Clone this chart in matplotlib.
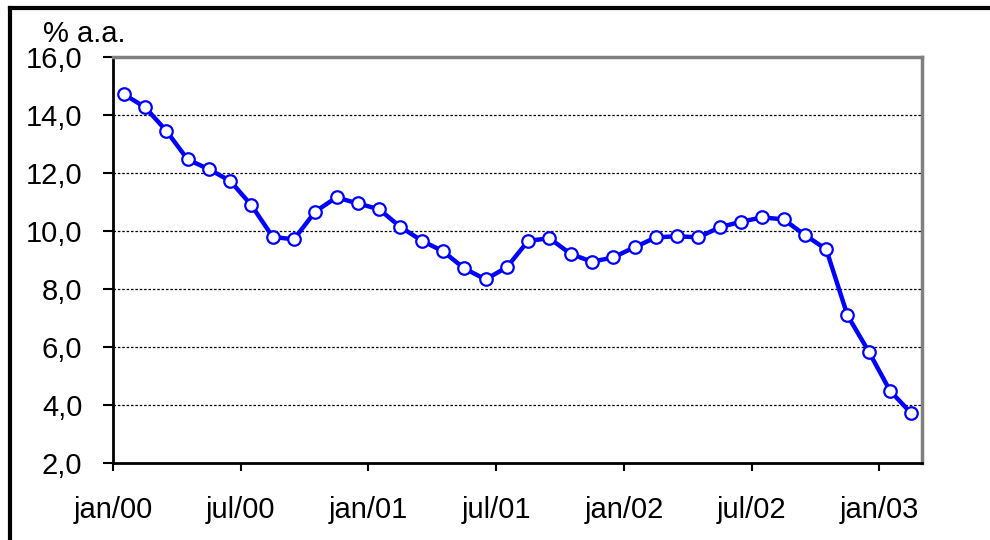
import numpy as np
import matplotlib.pyplot as plt
from matplotlib.lines import Line2D

plt.rcParams['font.family'] = ['Liberation Sans', 'DejaVu Sans']

# monthly rate, jan/00 .. feb/03 (% a.a.)
rate = [14.72, 14.27, 13.46, 12.47, 12.13, 11.73, 10.89, 9.80, 9.71, 10.67,
        11.16, 10.95, 10.75, 10.14, 9.67, 9.30, 8.71, 8.33, 8.75, 9.66,
        9.75, 9.21, 8.94, 9.09, 9.44, 9.78, 9.82, 9.78, 10.13, 10.32,
        10.47, 10.40, 9.86, 9.37, 7.09, 5.84, 4.49, 3.71]
tick_labels = ["jan/00", "jul/00", "jan/01", "jul/01", "jan/02", "jul/02", "jan/03"]
y_ticks = [2, 4, 6, 8, 10, 12, 14, 16]

n = len(rate)
x = np.arange(n) + 0.5

fig = plt.figure(figsize=(9.9, 5.4), dpi=100)
ax = fig.add_axes([113 / 990, 1 - 463 / 540, (922 - 113) / 990, (463 - 57) / 540])

for yv in y_ticks[1:-1]:
    ax.axhline(yv, color="black", lw=0.9, ls=(0, (2, 1.5)), zorder=1)

ax.plot(x, rate, color="#0000ff", lw=3.2, marker="o", ms=9,
        mfc="white", mec="#0000ff", mew=1.6, zorder=3, clip_on=False)

ax.set_xlim(0, n)
ax.set_ylim(2, 16)
ax.set_xticks(np.arange(0, n, 6))
ax.set_xticklabels(tick_labels)
ax.set_yticks(y_ticks)
ax.set_yticklabels([f"{v:.1f}".replace(".", ",") for v in y_ticks])

ax.tick_params(axis="y", direction="out", length=7, width=1.5, pad=15, labelsize=21)
ax.tick_params(axis="x", direction="out", length=6, width=1.5, pad=18, labelsize=21)

for side in ["left", "bottom"]:
    ax.spines[side].set_linewidth(2)
    ax.spines[side].set_color("black")
for side in ["top", "right"]:
    ax.spines[side].set_linewidth(2.5)
    ax.spines[side].set_color("#808080")

fig.text(43 / 990, 1 - 34 / 540, "% a.a.", fontsize=21, va="center", ha="left")

# outer chart frame (cut at right and bottom)
fig.add_artist(Line2D([10 / 990, 10 / 990], [0, 1 - 8 / 540], color="black", lw=3,
                      transform=fig.transFigure))
fig.add_artist(Line2D([10 / 990, 1], [1 - 8 / 540, 1 - 8 / 540], color="black", lw=3,
                      transform=fig.transFigure))

fig.savefig("out.png", dpi=100)
